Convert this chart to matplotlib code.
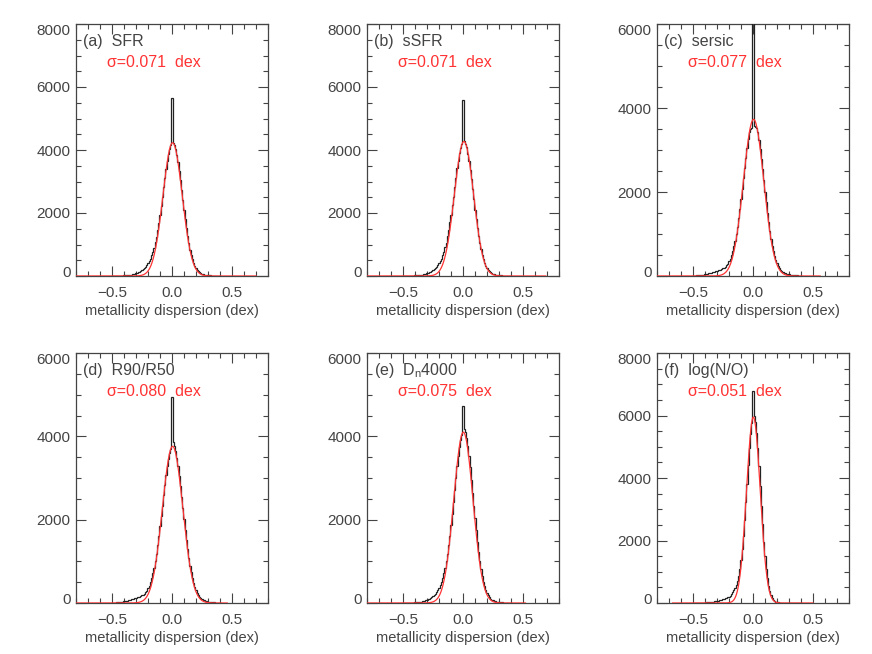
import numpy as np
import matplotlib
matplotlib.use("Agg")
import matplotlib.pyplot as plt
import matplotlib.transforms as mtransforms
from matplotlib.ticker import MultipleLocator

plt.rcParams["font.family"] = ["Liberation Sans", "DejaVu Sans"]
plt.rcParams["mathtext.fontset"] = "custom"
plt.rcParams["mathtext.rm"] = "Liberation Sans"

# histogram bins: centres from -0.50 to 0.40 dex, 0.01 dex wide
bin_width = 0.01
bin_centers = np.round(np.arange(-50, 41) * bin_width, 2)

hist_sfr = [3, 3, 4, 4, 5, 6, 7, 9, 11, 13,
            16, 19, 23, 27, 32, 38, 45, 53, 62, 73,
            88, 103, 119, 139, 162, 188, 219, 255, 296, 346,
            404, 472, 554, 652, 766, 903, 1064, 1249, 1458, 1690,
            1948, 2225, 2515, 2814, 3109, 3390, 3646, 3866, 4041, 4161,
            5650,
            4235, 4165, 4035, 3850, 3615, 3343, 3044, 2729, 2409, 2095,
            1794, 1515, 1262, 1039, 836, 676, 533, 420, 326, 252,
            193, 147, 113, 87, 67, 52, 42, 33, 27, 23,
            19, 16, 14, 12, 10, 8, 7, 5, 4, 3]

hist_ssfr = [3, 2, 4, 5, 5, 6, 8, 9, 10, 14,
             16, 20, 22, 28, 31, 39, 44, 54, 61, 75,
             87, 105, 118, 141, 160, 190, 217, 258, 293, 350,
             400, 477, 550, 658, 760, 910, 1058, 1262, 1450, 1705,
             1940, 2245, 2510, 2840, 3100, 3420, 3660, 3900, 4060, 4200,
             5600,
             4290, 4200, 4080, 3880, 3650, 3370, 3075, 2750, 2430, 2110,
             1810, 1530, 1275, 1045, 850, 680, 540, 422, 330, 255,
             195, 150, 114, 88, 68, 53, 42, 34, 27, 23,
             19, 16, 14, 12, 10, 8, 7, 5, 4, 3]

hist_sersic = [8, 9, 11, 13, 15, 18, 21, 25, 29, 34,
               41, 47, 54, 61, 69, 77, 86, 96, 105, 116,
               127, 139, 138, 150, 164, 179, 199, 224, 255, 296,
               349, 414, 493, 590, 706, 841, 999, 1177, 1375, 1592,
               1826, 2071, 2322, 2573, 2817, 3048, 3254, 3432, 3500, 3520,
               7500,
               3560, 3545, 3520, 3430, 3250, 3035, 2795, 2540, 2275, 2010,
               1752, 1507, 1280, 1072, 881, 720, 585, 472, 378, 304,
               242, 192, 153, 123, 99, 79, 65, 54, 44, 39,
               34, 29, 25, 21, 18, 15, 13, 10, 8, 6]

hist_r90 = [7, 8, 10, 12, 14, 17, 20, 24, 28, 33,
            39, 45, 52, 60, 68, 76, 85, 95, 106, 117,
            128, 140, 140, 151, 165, 181, 200, 226, 257, 298,
            350, 416, 496, 594, 712, 847, 1006, 1185, 1385, 1605,
            1840, 2087, 2340, 2594, 2840, 3072, 3280, 3459, 3600, 3700,
            4950,
            3870, 3760, 3650, 3480, 3290, 3060, 2815, 2555, 2288, 2020,
            1762, 1518, 1290, 1082, 896, 733, 594, 477, 380, 301,
            237, 187, 148, 117, 93, 75, 61, 50, 41, 35,
            29, 25, 21, 18, 15, 12, 10, 8, 6, 5]

hist_dn4000 = [3, 3, 3, 3, 4, 5, 6, 8, 9, 11,
               14, 16, 20, 23, 27, 32, 38, 45, 55, 65,
               75, 88, 102, 120, 140, 163, 191, 223, 262, 308,
               362, 427, 506, 600, 712, 845, 1001, 1183, 1389, 1616,
               1869, 2141, 2425, 2717, 3005, 3280, 3530, 3745, 3915, 4033,
               4730,
               4170, 4110, 3960, 3760, 3525, 3255, 2960, 2652, 2340, 2035,
               1741, 1468, 1222, 1002, 810, 648, 512, 400, 310, 238,
               183, 140, 107, 82, 64, 50, 40, 32, 26, 22,
               18, 15, 13, 11, 9, 7, 6, 5, 4, 3]

hist_no = [3, 4, 5, 5, 6, 7, 8, 10, 11, 13,
           15, 18, 21, 24, 28, 33, 38, 45, 52, 60,
           70, 79, 88, 98, 109, 120, 132, 147, 162, 180,
           200, 237, 286, 344, 410, 488, 579, 701, 863, 1078,
           1361, 1719, 2153, 2659, 3224, 3821, 4412, 4958, 5416, 5752,
           6780,
           6000, 5800, 5430, 4950, 4375, 3750, 3118, 2515, 1968, 1494,
           1100, 787, 547, 370, 243, 157, 99, 63, 40, 26,
           19, 14, 11, 9, 7, 6, 5, 4, 3, 3,
           2, 2, 2, 1, 1, 1, 1, 1, 0, 0]

histograms = [hist_sfr, hist_ssfr, hist_sersic, hist_r90, hist_dn4000, hist_no]
panel_labels = ["(a)  SFR", "(b)  sSFR", "(c)  sersic",
                "(d)  R90/R50", r"(e)  D$_\mathregular{n}$4000", "(f)  log(N/O)"]
sigma_labels = ["0.071", "0.071", "0.077", "0.080", "0.075", "0.051"]
y_max = [8000, 8000, 6000, 6000, 6000, 8000]

# gaussian fits (red curves)
fit_amp = [4230, 4270, 3730, 3760, 4100, 5950]
fit_mu = [0.005, 0.008, 0.005, 0.005, 0.003, 0.003]
fit_sigma = [0.080, 0.080, 0.085, 0.085, 0.080, 0.057]
fit_range = [(-0.8, 0.70), (-0.8, 0.69), (-0.8, 0.56),
             (-0.8, 0.46), (-0.8, 0.52), (-0.67, 0.50)]

W, H = 872, 654
col_left = [76, 367, 657]
row_top = [24, 353]
row_bot = [276, 603]
ax_w = 192

fig = plt.figure(figsize=(W / 100, H / 100), dpi=100)
grey = "#444444"

edges = np.append(bin_centers - bin_width / 2, bin_centers[-1] + bin_width / 2)
axes = []

for i in range(6):
    r, c = divmod(i, 3)
    rect = [col_left[c] / W, 1 - row_bot[r] / H, ax_w / W, (row_bot[r] - row_top[r]) / H]
    ax = fig.add_axes(rect)
    axes.append(ax)

    ax.stairs(histograms[i], edges, baseline=None, color="#222222", lw=0.9, zorder=3)

    xx = np.linspace(fit_range[i][0], fit_range[i][1], 500)
    yy = fit_amp[i] * np.exp(-(xx - fit_mu[i]) ** 2 / (2 * fit_sigma[i] ** 2))
    ax.plot(xx, yy, color="#ff3333", lw=0.9, zorder=4)

    ax.set_xlim(-0.8, 0.8)
    ax.set_ylim(0, y_max[i])
    ax.xaxis.set_major_locator(MultipleLocator(0.5))
    ax.xaxis.set_minor_locator(MultipleLocator(0.1))
    ax.yaxis.set_major_locator(MultipleLocator(2000))
    ax.yaxis.set_minor_locator(MultipleLocator(500))
    ax.xaxis.set_major_formatter(plt.FuncFormatter(lambda v, p: ("%.1f" % v).replace("-", "\u2212")))

    ax.tick_params(which="both", direction="in", top=True, right=True,
                   color=grey, labelcolor=grey, labelsize=11)
    ax.tick_params(which="major", length=7, width=0.8)
    ax.tick_params(which="minor", length=3.5, width=0.8)
    ax.tick_params(axis="x", pad=7)
    ax.tick_params(axis="y", pad=4)
    for s in ax.spines.values():
        s.set_color(grey)
        s.set_linewidth(0.9)

    ax.set_xlabel("metallicity dispersion (dex)", fontsize=10.5, color=grey, labelpad=3)

    ax.text(0.036, 0.93, panel_labels[i], transform=ax.transAxes,
            fontsize=11.5, color=grey, va="center", ha="left")
    ax.text(0.16, 0.848, "\u03c3=" + sigma_labels[i] + "  dex", transform=ax.transAxes,
            fontsize=11.5, color="#ff3333", va="center", ha="left")

# IDL style: the end labels of each y axis sit a little inside the axis range
fig.canvas.draw()
up = mtransforms.ScaledTranslation(0, 3 / 72, fig.dpi_scale_trans)
down = mtransforms.ScaledTranslation(0, -4 / 72, fig.dpi_scale_trans)
for i, ax in enumerate(axes):
    for t in ax.yaxis.get_major_ticks():
        loc = t.get_loc()
        if loc is None:
            continue
        if abs(loc) < 1e-6:
            t.label1.set_transform(t.label1.get_transform() + up)
        elif abs(loc - y_max[i]) < 1e-6:
            t.label1.set_transform(t.label1.get_transform() + down)

fig.savefig("out.png", dpi=100)
